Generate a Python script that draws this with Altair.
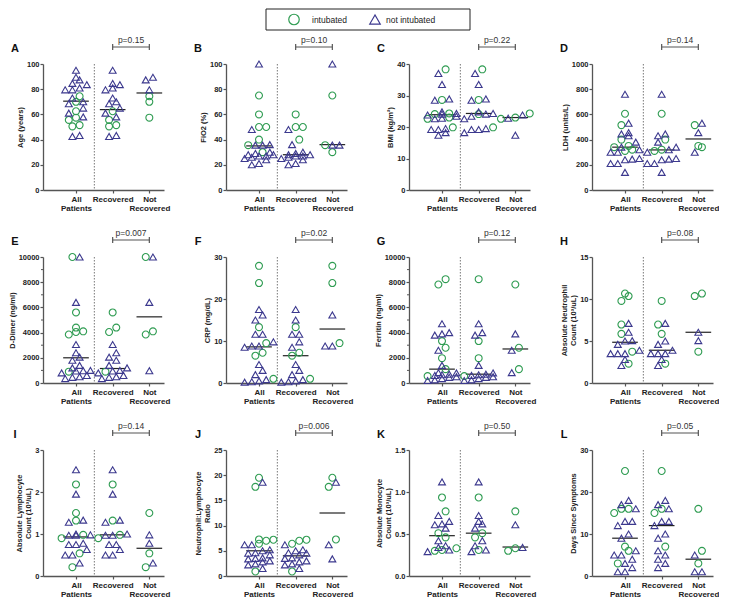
import altair as alt
import numpy as np
import pandas as pd

GREEN = "#2f9c52"
PURPLE = "#3c398e"
AXC = "#555555"
TXT = "#222222"
FONT = "Liberation Sans"

W, H = 121, 126
XMAX = 3.3
CENTERS = [0.9, 1.9, 2.9]
SEP = 1.4
KINDS = ["intubated", "not intubated"]

# ---- data (T = not intubated / triangle, C = intubated / circle)
age_rec_T = [95, 84.6, 83.6, 81, 79.5, 73, 70, 68.5, 65, 61, 58, 43.3, 42.5]
age_rec_C = [62.5, 55.6, 51.5, 50.5]
age_not_T = [89.5, 87.4, 79.5]
age_not_C = [74.4, 70, 57.4]
age_med = [70.5, 63.8, 77]

fio_rec_T = [48, 36, 30, 29, 28, 28, 27, 27, 26, 25, 24, 21, 20]
fio_rec_C = [60, 50, 50, 40]
fio_not_T = [100, 35.6, 35.6]
fio_not_C = [75, 35.6, 30]
fio_med = [35, 28, 36]

bmi_rec_T = [37, 33.5, 28.9, 28.5, 24.8, 24.3, 24.1, 23.4, 22.6, 19.5, 19.2, 19.2, 18.2]
bmi_rec_C = [38.3, 28.6, 24.1, 19.9]
bmi_not_T = [23.8, 22.8, 17.4]
bmi_not_C = [24.3, 23.0, 22.6]
bmi_med = [23.9, 24.3, 23.0]

ldh_rec_T = [760, 445, 430, 380, 340, 320, 300, 250, 245, 240, 210, 210, 140]
ldh_rec_C = [605, 400, 320, 310]
ldh_not_T = [530, 455, 300]
ldh_not_C = [515, 350, 340]
ldh_med = [340, 318, 405]

dd_rec_T = [3050, 2400, 2050, 1800, 1400, 1200, 1000, 950, 800, 600, 500, 450, 350]
dd_rec_C = [5600, 4400, 4050, 900]
dd_not_T = [10000, 6400, 975]
dd_not_C = [10000, 4100, 3850]
dd_med = [2000, 1150, 5250]

crp_rec_T = [17.5, 15, 11.6, 11.6, 9.8, 8.5, 4.4, 3.0, 2.0, 0.8, 0.5, 0.3, 0.2]
crp_rec_C = [13.3, 7.2, 6.5, 1.0]
crp_not_T = [16.2, 8.8, 8.8]
crp_not_C = [27.9, 23.8, 9.5]
crp_med = [8.6, 6.5, 12.85]

fer_rec_T = [4700, 4000, 3800, 1400, 800, 700, 650, 600, 500, 450, 350, 250, 200]
fer_rec_C = [8240, 3330, 1970, 550]
fer_not_T = [3900, 2600, 820]
fer_not_C = [7820, 2800, 1100]
fer_med = [1100, 700, 2700]

neu_rec_T = [7.1, 5.0, 4.6, 3.9, 3.5, 3.5, 3.5, 2.8, 2.08]
neu_rec_C = [9.77, 6.96, 5.85, 2.3]
neu_not_T = [6.04, 5.04]
neu_not_C = [10.65, 10.35, 3.73]
neu_med = [4.85, 3.9, 6.04]

lym_rec_T = [2.53, 1.95, 1.33, 1.28, 1.0, 0.97, 0.97, 0.75, 0.75, 0.63, 0.5, 0.5]
lym_rec_C = [2.18, 1.32, 0.98, 0.9]
lym_not_T = [0.98, 0.78, 0.31]
lym_not_C = [1.5, 0.54, 0.21]
lym_med = [0.93, 0.98, 0.66]

nlr_rec_T = [6.2, 5.2, 5.0, 4.6, 4.5, 4.2, 3.6, 3.5, 3.0, 2.8, 2.4, 2.2, 1.5]
nlr_rec_C = [7.2, 7.0, 6.4, 0.9]
nlr_not_T = [18.6, 6.2, 3.4]
nlr_not_C = [19.5, 17.7, 7.25]
nlr_med = [5.0, 4.0, 12.5]

mon_rec_T = [1.12, 0.72, 0.65, 0.62, 0.57, 0.42, 0.36, 0.31, 0.29]
mon_rec_C = [0.935, 0.51, 0.46, 0.31]
mon_not_T = [0.61, 0.34]
mon_not_C = [0.77, 0.33, 0.30]
mon_med = [0.48, 0.51, 0.345]

day_rec_T = [18, 17, 16, 13, 13, 12, 10, 9, 6, 5, 4, 3, 2]
day_rec_C = [25, 16, 15, 7]
day_not_T = [5, 1, 1]
day_not_C = [16, 6, 3]
day_med = [9, 12, 4]

p_values = ["p=0.15", "p=0.10", "p=0.22", "p=0.14", "p=0.007", "p=0.02",
            "p=0.12", "p=0.08", "p=0.14", "p=0.006", "p=0.50", "p=0.05"]
letters = list("ABCDEFGHIJKL")

shape_enc = alt.Shape("kind:N", scale=alt.Scale(domain=KINDS, range=["circle", "triangle-up"]), legend=None)
color_enc = alt.Color("kind:N", scale=alt.Scale(domain=KINDS, range=[GREEN, PURPLE]), legend=None)


def swarm(vals, ymax, unit_px, dot=7.2, thr=5.5, maxrow=5):
    vals = np.asarray(vals, dtype=float)
    px = vals / ymax * H
    order = np.argsort(vals, kind="stable")
    rows, cur = [], []
    for i in order:
        if cur and (px[i] - px[cur[0]] > thr or len(cur) >= maxrow):
            rows.append(cur)
            cur = []
        cur.append(i)
    if cur:
        rows.append(cur)
    offs = np.zeros(len(vals))
    for r in rows:
        n = len(r)
        for k, i in enumerate(r):
            offs[i] = (k - (n - 1) / 2) * dot / unit_px
    return offs


def legend_layers():
    one = pd.DataFrame({"k": [0]})
    box = alt.Chart(one).mark_rect(fill="white", stroke="#222222", strokeWidth=1).encode(
        x=alt.value(40), x2=alt.value(244), y=alt.value(-55), y2=alt.value(-34))
    c_sym = alt.Chart(one).mark_point(shape="circle", filled=False, size=110, strokeWidth=1.2,
                                      color=GREEN, opacity=1).encode(x=alt.value(68), y=alt.value(-44.5))
    t_sym = alt.Chart(one).mark_point(shape="triangle-up", filled=False, size=110, strokeWidth=1.2,
                                      color=PURPLE, opacity=1).encode(x=alt.value(149), y=alt.value(-44.5))
    c_txt = alt.Chart(one).mark_text(text=KINDS[0], font=FONT, fontSize=8.5, align="left",
                                     baseline="middle", color=TXT).encode(x=alt.value(86), y=alt.value(-44.5))
    t_txt = alt.Chart(one).mark_text(text=KINDS[1], font=FONT, fontSize=8.5, align="left",
                                     baseline="middle", color=TXT).encode(x=alt.value(160), y=alt.value(-44.5))
    return [box, c_sym, t_sym, c_txt, t_txt]


def panel(idx, title, rec_T, rec_C, not_T, not_C, med, ymax, ystep, fmt="d", minor=None):
    unit = W / XMAX
    groups = [(0, rec_T + not_T, rec_C + not_C), (1, rec_T, rec_C), (2, not_T, not_C)]
    recs = []
    for g, tri, circ in groups:
        vals = list(circ) + list(tri)
        kinds = ["intubated"] * len(circ) + ["not intubated"] * len(tri)
        offs = swarm(vals, ymax, unit)
        for v, k, o in zip(vals, kinds, offs):
            recs.append({"x": CENTERS[g] + o, "val": v, "kind": k})
    df = pd.DataFrame(recs)

    xaxis = alt.Axis(values=CENTERS, title=None, grid=False, tickSize=3, tickColor=AXC, tickWidth=1.2,
                     domainColor=AXC, domainWidth=1.3, labelOverlap=False, labelFlush=False,
                     labelFont=FONT, labelFontWeight="bold", labelFontSize=8, labelColor=TXT,
                     labelPadding=2, labelLineHeight=9.5,
                     labelExpr="datum.value < 1.4 ? ['All','Patients'] : (datum.value < 2.4 ? 'Recovered' : ['Not','Recovered'])")
    ticks = list(np.round(np.arange(0, ymax + ystep / 2, ystep), 6))
    yaxis = alt.Axis(values=ticks, format=fmt, title=title, grid=False, tickSize=3, tickColor=AXC,
                     tickWidth=1.2, domainColor=AXC, domainWidth=1.3, labelFlush=False,
                     labelFont=FONT, labelFontWeight="bold", labelFontSize=7.5, labelColor=TXT,
                     labelPadding=1, titleFont=FONT, titleFontWeight="bold", titleFontSize=7.5,
                     titleColor=TXT, titlePadding=2, titleLineHeight=9)
    x_enc = alt.X("x:Q", scale=alt.Scale(domain=[0, XMAX], nice=False, zero=False), axis=xaxis)
    y_enc = alt.Y("val:Q", scale=alt.Scale(domain=[0, ymax], nice=False), axis=yaxis)

    sep = alt.Chart(pd.DataFrame({"x": [SEP]})).mark_rule(color="#777777", strokeWidth=1,
                                                          strokeDash=[1.5, 1.5]).encode(
        x=x_enc, y=alt.value(0), y2=alt.value(H))
    mdf = pd.DataFrame({"x": [c - 0.35 for c in CENTERS], "x2": [c + 0.35 for c in CENTERS], "val": med})
    medl = alt.Chart(mdf).mark_rule(color=TXT, strokeWidth=1.2).encode(x=x_enc, x2="x2:Q", y=y_enc)
    pts = alt.Chart(df).mark_point(filled=False, size=48, strokeWidth=1.1, opacity=1).encode(
        x=x_enc, y=y_enc, shape=shape_enc, color=color_enc)
    bdf = pd.DataFrame({"x": [CENTERS[1]], "x2": [CENTERS[2]]})
    bar = alt.Chart(bdf).mark_rule(color=AXC, strokeWidth=1.2).encode(x=x_enc, x2="x2:Q", y=alt.value(-17))
    cdf = pd.DataFrame({"x": [CENTERS[1], CENTERS[2]]})
    caps = alt.Chart(cdf).mark_rule(color=AXC, strokeWidth=1.2).encode(
        x=x_enc, y=alt.value(-20), y2=alt.value(-14))
    tdf = pd.DataFrame({"x": [(CENTERS[1] + CENTERS[2]) / 2], "t": [p_values[idx]]})
    ptxt = alt.Chart(tdf).mark_text(font=FONT, fontSize=8.5, color="#333333", baseline="alphabetic").encode(
        x=x_enc, y=alt.value(-21), text="t:N")
    ldf = pd.DataFrame({"t": [letters[idx]]})
    let = alt.Chart(ldf).mark_text(font=FONT, fontSize=11, fontWeight="bold", color="#111111",
                                   align="center", baseline="middle").encode(
        x=alt.value(-28), y=alt.value(-15), text="t:N")
    layers = [sep, medl, pts, bar, caps, ptxt, let]
    if minor is not None:
        mn = pd.DataFrame({"val": minor})
        mt = alt.Chart(mn).mark_rule(color=AXC, strokeWidth=1).encode(
            y=y_enc, x=alt.value(-2), x2=alt.value(0))
        layers.insert(1, mt)
    if idx == 1:
        layers += legend_layers()
    return alt.layer(*layers).properties(width=W, height=H)


panels = [
    panel(0, "Age (years)", age_rec_T, age_rec_C, age_not_T, age_not_C, age_med, 100, 20),
    panel(1, "FiO2 (%)", fio_rec_T, fio_rec_C, fio_not_T, fio_not_C, fio_med, 100, 20),
    panel(2, "BMI (kg/m²)", bmi_rec_T, bmi_rec_C, bmi_not_T, bmi_not_C, bmi_med, 40, 10),
    panel(3, "LDH (units/L)", ldh_rec_T, ldh_rec_C, ldh_not_T, ldh_not_C, ldh_med, 1000, 200),
    panel(4, "D-Dimer (ng/ml)", dd_rec_T, dd_rec_C, dd_not_T, dd_not_C, dd_med, 10000, 2000,
          minor=[1000, 3000, 5000, 7000, 9000]),
    panel(5, "CRP (mg/dL)", crp_rec_T, crp_rec_C, crp_not_T, crp_not_C, crp_med, 30, 10),
    panel(6, "Ferritin (ng/ml)", fer_rec_T, fer_rec_C, fer_not_T, fer_not_C, fer_med, 10000, 2000,
          minor=[1000, 3000, 5000, 7000, 9000]),
    panel(7, ["Absolute Neutrophil", "Count (10³/uL)"], neu_rec_T, neu_rec_C, neu_not_T, neu_not_C,
          neu_med, 15, 5),
    panel(8, ["Absolute Lymphocyte", "Count (10³/uL)"], lym_rec_T, lym_rec_C, lym_not_T, lym_not_C,
          lym_med, 3, 1),
    panel(9, ["Neutrophil:Lymphocyte", "Ratio"], nlr_rec_T, nlr_rec_C, nlr_not_T, nlr_not_C,
          nlr_med, 25, 5),
    panel(10, ["Absolute Monocyte", "Count (10³/uL)"], mon_rec_T, mon_rec_C, mon_not_T, mon_not_C,
          mon_med, 1.5, 0.5, fmt=".1f"),
    panel(11, "Days Since Symptoms", day_rec_T, day_rec_C, day_not_T, day_not_C, day_med, 30, 10),
]

chart = alt.concat(*panels, columns=4, spacing={"row": 67, "column": 62}, bounds="flush",
                   padding=0).configure_view(stroke=None)

chart.save("out.html", embed_options={"renderer": "svg", "actions": False})
